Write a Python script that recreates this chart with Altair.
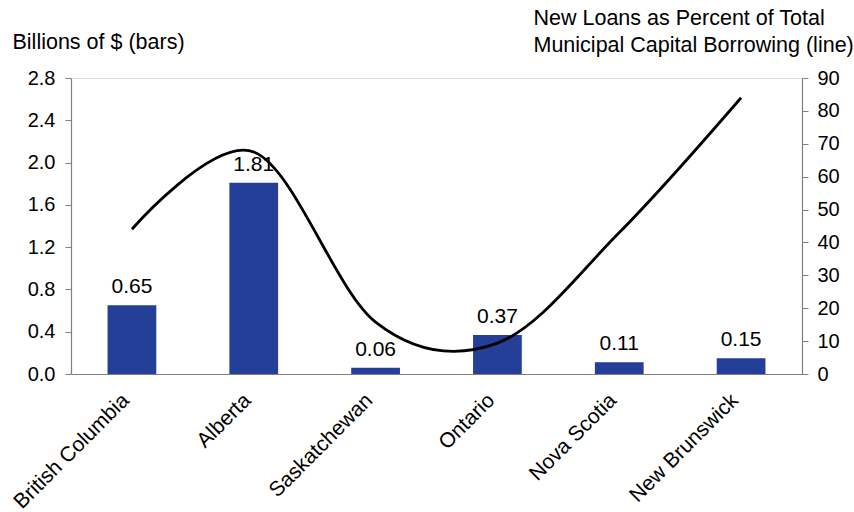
import altair as alt
import pandas as pd

provinces = ["British Columbia", "Alberta", "Saskatchewan", "Ontario", "Nova Scotia", "New Brunswick"]
loans_billions = [0.65, 1.81, 0.06, 0.37, 0.11, 0.15]
pct_of_borrowing = [44, 67.5, 15.8, 9.4, 43, 84]
bar_labels = ["0.65", "1.81", "0.06", "0.37", "0.11", "0.15"]

df = pd.DataFrame({
    "province": provinces,
    "loans": loans_billions,
    "pct": pct_of_borrowing,
    "label": bar_labels,
})

FONT = "Liberation Sans"
FS = 20
FS_CAT = 21
FS_TITLE = 21.5
AXIS_GRAY = "#808080"

x_enc = alt.X(
    "province:N",
    sort=provinces,
    scale=alt.Scale(paddingInner=0.6, paddingOuter=0.3),
    axis=alt.Axis(
        title=None, labelAngle=-45, labelAlign="right", labelBaseline="middle",
        labelPadding=23, labelOffset=-6, ticks=False, labelFont=FONT, labelFontSize=FS_CAT,
        labelColor="black", domainColor=AXIS_GRAY, domainWidth=1.2, grid=False,
    ),
)

y_left = alt.Y(
    "loans:Q",
    scale=alt.Scale(domain=[0, 2.8], nice=False, zero=True),
    axis=alt.Axis(
        values=[0, 0.4, 0.8, 1.2, 1.6, 2.0, 2.4, 2.8], format=".1f",
        title="Billions of $ (bars)", titleAngle=0, titleAlign="left",
        titleBaseline="alphabetic", titleX=-59, titleY=-30,
        titleFont=FONT, titleFontSize=FS_TITLE, titleFontWeight="normal", titleColor="black",
        labelFont=FONT, labelFontSize=FS, labelColor="black", labelPadding=10,
        tickSize=6, tickColor=AXIS_GRAY, domainColor=AXIS_GRAY, domainWidth=1.2,
        grid=False, orient="left",
    ),
)

bars = alt.Chart(df).mark_bar(color="#233F98").encode(x=x_enc, y=y_left)

texts = alt.Chart(df).mark_text(
    font=FONT, fontSize=21, color="black", baseline="alphabetic", dy=-12
).encode(x=alt.X("province:N", sort=provinces), y=alt.Y("loans:Q"), text="label:N")

left = alt.layer(bars, texts)

line = alt.Chart(df).mark_line(
    color="black", strokeWidth=2.8, interpolate="cardinal", tension=0
).encode(
    x=alt.X("province:N", sort=provinces),
    y=alt.Y(
        "pct:Q",
        scale=alt.Scale(domain=[0, 90], nice=False),
        axis=alt.Axis(
            orient="right", values=list(range(0, 91, 10)),
            title=["New Loans as Percent of Total", "Municipal Capital Borrowing (line)"],
            titleAngle=0, titleAlign="left", titleBaseline="alphabetic",
            titleX=-269, titleY=-54, titleLineHeight=27,
            titleFont=FONT, titleFontSize=FS_TITLE, titleFontWeight="normal", titleColor="black",
            labelFont=FONT, labelFontSize=FS, labelColor="black", labelPadding=9,
            tickSize=6, tickColor=AXIS_GRAY, domainColor=AXIS_GRAY, domainWidth=1.2,
            grid=False,
        ),
    ),
)

chart = alt.layer(left, line).resolve_scale(y="independent").properties(
    width=731, height=296,
    autosize=alt.AutoSizeParams(type="none"),
    padding={"left": 71, "top": 78, "right": 52, "bottom": 138},
).configure_view(stroke=None).configure(background="white")

chart.save("out.html", embed_options={"renderer": "svg", "actions": False})
